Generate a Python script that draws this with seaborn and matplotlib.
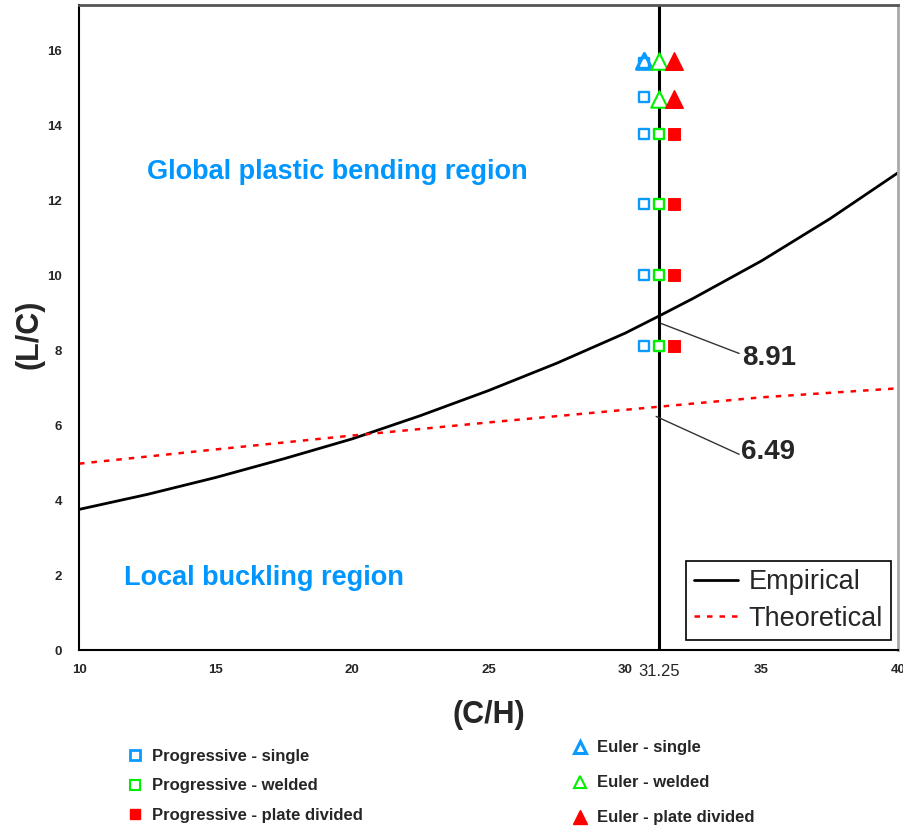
import numpy as np
import pandas as pd
import matplotlib
matplotlib.use('Agg')
import matplotlib.pyplot as plt
from matplotlib.lines import Line2D
import seaborn as sns

# Kurven
ch_emp = [10, 12.5, 15, 17.5, 20, 22.5, 25, 27.5, 30, 31.25, 32.5, 35, 37.5, 40]
lc_emp = [3.75, 4.15, 4.60, 5.10, 5.63, 6.25, 6.92, 7.65, 8.45, 8.91, 9.38, 10.38, 11.5, 12.73]
ch_theo = [10, 15, 20, 25, 31.25, 35, 40]
lc_theo = [4.97, 5.35, 5.72, 6.07, 6.49, 6.74, 6.98]

ch_design = 31.25
lc_emp_at = 8.91
lc_theo_at = 6.49

# Versuchspunkte (alle bei C/H = 31.25, nur seitlich versetzt gezeichnet)
prog_single = [8.1, 10.0, 11.9, 13.75, 14.75, 15.65]
prog_welded = [8.1, 10.0, 11.9, 13.75]
prog_plate = [8.1, 10.0, 11.9, 13.75]
euler_single = [15.7]
euler_welded = [14.7, 15.7]
euler_plate = [14.7, 15.7]

xticks = [10, 15, 20, 25, 30, 31.25, 35, 40]
yticks = [0, 2, 4, 6, 8, 10, 12, 14, 16]

BLUE = '#0A9BFF'
GREEN = '#00F000'
RED = '#FF0000'
TXT_BLUE = '#0096FF'

sns.set_style('white')
plt.rcParams['font.family'] = ['Liberation Sans', 'DejaVu Sans']

fig = plt.figure(figsize=(9.04, 8.31), dpi=100)
ax = fig.add_axes([0.0874, 0.2178, 0.906, 0.776])

sns.lineplot(x=ch_emp, y=lc_emp, ax=ax, color='black', lw=2.0, label='Empirical')
sns.lineplot(x=ch_theo, y=lc_theo, ax=ax, color=RED, lw=1.8, ls=(0, (2.2, 2.8)),
             label='Theoretical')
ax.axvline(ch_design, color='black', lw=2.2, zorder=1)

off = 0.54
sq = dict(marker='s', s=52, linewidth=1.7, facecolor='white', zorder=5, legend=False)
sns.scatterplot(x=[ch_design - off] * len(prog_single), y=prog_single, ax=ax,
                edgecolor=BLUE, **sq)
sns.scatterplot(x=[ch_design] * len(prog_welded), y=prog_welded, ax=ax,
                edgecolor=GREEN, **sq)
sns.scatterplot(x=[ch_design + off] * len(prog_plate), y=prog_plate, ax=ax,
                marker='s', s=70, color=RED, edgecolor=RED, zorder=5, legend=False)
sns.scatterplot(x=[ch_design - off] * len(euler_single), y=euler_single, ax=ax,
                marker='^', s=130, facecolor='none', edgecolor=BLUE, linewidth=2.2,
                zorder=6, legend=False)
sns.scatterplot(x=[ch_design] * len(euler_welded), y=euler_welded, ax=ax,
                marker='^', s=140, facecolor='white', edgecolor=GREEN, linewidth=1.5,
                zorder=6, legend=False)
sns.scatterplot(x=[ch_design + off] * len(euler_plate), y=euler_plate, ax=ax,
                marker='^', s=160, color=RED, edgecolor=RED, zorder=6, legend=False)

# Beschriftung der Schnittpunkte
ax.plot([31.32, 34.18], [8.71, 7.91], color='#333333', lw=1)
ax.text(34.3, 7.8, f'{lc_emp_at:.2f}', fontsize=20, fontweight='bold', va='center')
ax.plot([31.14, 34.18], [6.23, 5.22], color='#333333', lw=1)
ax.text(34.25, 5.27, f'{lc_theo_at:.2f}', fontsize=20, fontweight='bold', va='center')

ax.text(0.315, 0.742, 'Global plastic bending region', transform=ax.transAxes,
        color=TXT_BLUE, fontsize=19.5, fontweight='bold', ha='center', va='center')
ax.text(0.226, 0.111, 'Local buckling region', transform=ax.transAxes,
        color=TXT_BLUE, fontsize=19.5, fontweight='bold', ha='center', va='center')

ax.set_xlim(10, 40)
ax.set_ylim(0, 17.2)
ax.set_xticks(xticks)
ax.set_xticklabels([f'{t:g}' for t in xticks])
ax.set_yticks(yticks)
ax.tick_params(axis='both', direction='out', length=4, width=1, color='black',
               labelsize=9.5)
ax.tick_params(axis='y', pad=8)
ax.tick_params(axis='x', pad=6)
for lab in ax.get_xticklabels() + ax.get_yticklabels():
    lab.set_fontweight('bold')
ax.get_xticklabels()[5].set_fontweight('normal')
ax.get_xticklabels()[5].set_fontsize(12)

ax.set_xlabel('(C/H)', fontsize=22, fontweight='bold', labelpad=15)
ax.set_ylabel('(L/C)', fontsize=22, fontweight='bold')
ax.yaxis.set_label_coords(-0.0425, 0.49)

ax.spines['left'].set_color('black')
ax.spines['bottom'].set_color('black')
ax.spines['left'].set_linewidth(1.5)
ax.spines['bottom'].set_linewidth(1.5)
ax.spines['top'].set_color('#555555')
ax.spines['top'].set_linewidth(2)
ax.spines['right'].set_color('#AAAAAA')
ax.spines['right'].set_linewidth(2)

leg = ax.legend(loc='lower right', bbox_to_anchor=(0.9915, 0.0155), fontsize=19.5,
                frameon=True, fancybox=False, edgecolor='black', framealpha=1,
                handlelength=1.6, handletextpad=0.4, labelspacing=0.4,
                borderpad=0.3, borderaxespad=0)
leg.get_frame().set_linewidth(1.2)

# Legende der Versuchspunkte unter dem Diagramm
h_left = [
    Line2D([], [], ls='none', marker='s', ms=6.5, mfc='white', mec=BLUE, mew=2),
    Line2D([], [], ls='none', marker='s', ms=6.5, mfc='white', mec=GREEN, mew=1.5),
    Line2D([], [], ls='none', marker='s', ms=7, mfc=RED, mec=RED),
]
h_right = [
    Line2D([], [], ls='none', marker='^', ms=9, mfc='white', mec=BLUE, mew=2.2),
    Line2D([], [], ls='none', marker='^', ms=9, mfc='white', mec=GREEN, mew=1.5),
    Line2D([], [], ls='none', marker='^', ms=10, mfc=RED, mec=RED),
]
lab_left = ['Progressive - single', 'Progressive - welded', 'Progressive - plate divided']
lab_right = ['Euler - single', 'Euler - welded', 'Euler - plate divided']
bold = {'weight': 'bold', 'size': 12, 'family': ['Liberation Sans Narrow', 'Liberation Sans']}
fig.legend(h_left, lab_left, loc='upper left', bbox_to_anchor=(0.131, 0.109),
           frameon=False, prop=bold, handlelength=1.0, handletextpad=0.5,
           labelspacing=0.88, borderpad=0)
fig.legend(h_right, lab_right, loc='upper left', bbox_to_anchor=(0.623, 0.119),
           frameon=False, prop=bold, handlelength=1.0, handletextpad=0.5,
           labelspacing=1.2, borderpad=0)

plt.savefig('out.png', dpi=100)
